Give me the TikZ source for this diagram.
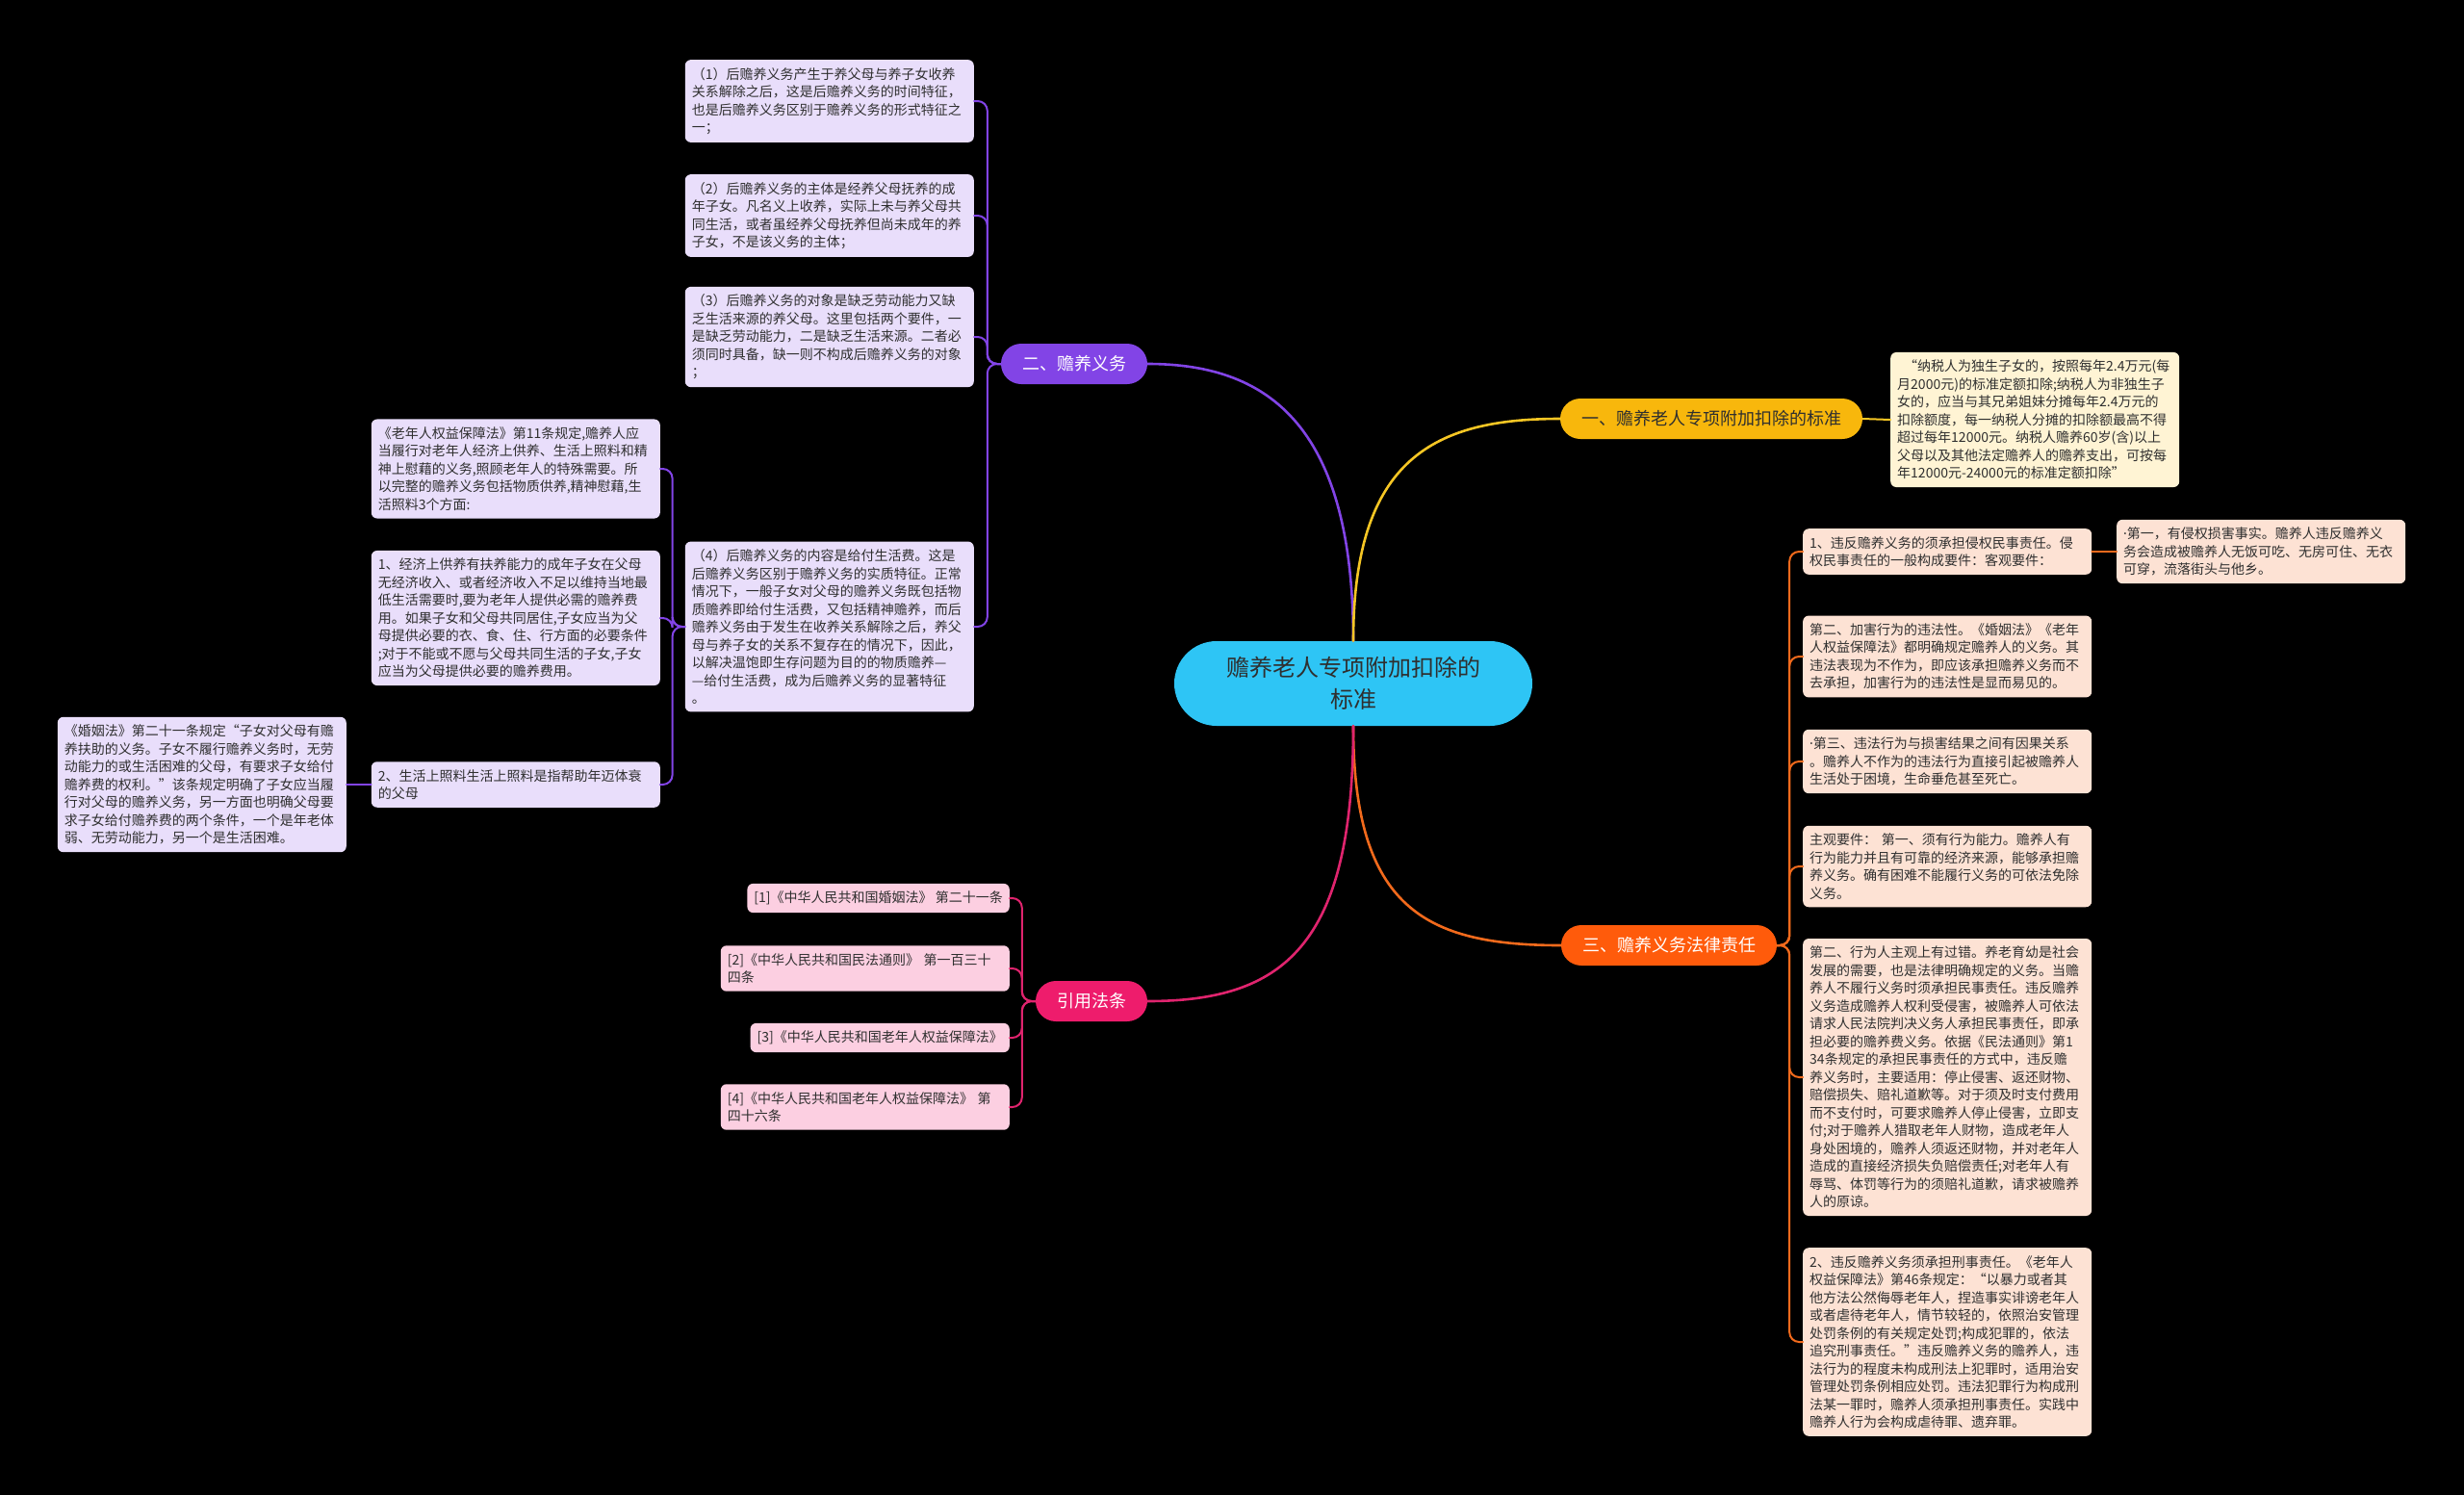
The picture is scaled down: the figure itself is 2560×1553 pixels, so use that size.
\documentclass[tikz,border=0pt]{standalone}
\usepackage{fontspec}
\setmainfont{Noto Sans CJK SC}
\newfontfamily\dotfont{Noto Sans}
\usepackage{xcolor}

\definecolor{rootblue}{HTML}{2EC5F5}
\definecolor{dutyviolet}{HTML}{8244E6}
\definecolor{dutyleaf}{HTML}{E9DEFB}
\definecolor{stdyellow}{HTML}{F8B70C}
\definecolor{stdline}{HTML}{F6C624}
\definecolor{stdleaf}{HTML}{FFF4D4}
\definecolor{liaborange}{HTML}{FF5B0B}
\definecolor{liabline}{HTML}{F26A1C}
\definecolor{liableaf}{HTML}{FDE2D4}
\definecolor{lawpink}{HTML}{EE1C6C}
\definecolor{lawline}{HTML}{E0246E}
\definecolor{lawleaf}{HTML}{FCCFE1}
\definecolor{inktext}{HTML}{2F2F2F}

\begin{document}
\begin{tikzpicture}[x=1pt,y=-1pt,line cap=round,
  leaf/.style={rounded corners=6pt,inner xsep=7pt,inner ysep=8pt,text width=286pt,align=left,text=inktext,font=\fontsize{14}{18.5}\selectfont},
  dleaf/.style={leaf,fill=dutyleaf},
  sleaf/.style={leaf,fill=stdleaf},
  oleaf/.style={leaf,fill=liableaf},
  cleaf/.style={rounded corners=6pt,inner xsep=7pt,inner ysep=8pt,align=left,text=inktext,fill=lawleaf,font=\fontsize{14}{18.5}\selectfont},
  pill/.style={rounded corners=21pt,minimum height=42pt,inner xsep=22pt,inner ysep=0pt,font=\fontsize{18}{22}\selectfont},
  trunk/.style={line width=2.6pt},
  twig/.style={line width=2pt,rounded corners=10pt}]
\useasboundingbox (0,0) rectangle (2560,1553);
\fill[black] (0,0) rectangle (2560,1553);

% centre
\node[fill=rootblue,text=inktext,rounded corners=44pt,minimum width=372pt,minimum height=88pt,align=center,font=\fontsize{24}{33}\selectfont] (root) at (1406,710) {赡养老人专项附加扣除的\\标准};

% main branches
\node[pill,fill=dutyviolet,text=white] (bduty) at (1116,378) {二、赡养义务};
\node[pill,fill=stdyellow,text=inktext] (bstd) at (1778,435) {一、赡养老人专项附加扣除的标准};
\node[pill,fill=liaborange,text=white] (bliab) at (1734,982) {三、赡养义务法律责任};
\node[pill,fill=lawpink,text=white] (blaw) at (1134,1040) {引用法条};

% 二、赡养义务
\node[dleaf,anchor=east] (d1) at (1012,105) {（1）后赡养义务产生于养父母与养子女收养\\关系解除之后，这是后赡养义务的时间特征，\\也是后赡养义务区别于赡养义务的形式特征之\\一；};
\node[dleaf,anchor=east] (d2) at (1012,224) {（2）后赡养义务的主体是经养父母抚养的成\\年子女。凡名义上收养，实际上未与养父母共\\同生活，或者虽经养父母抚养但尚未成年的养\\子女，不是该义务的主体；};
\node[dleaf,anchor=east] (d3) at (1012,350) {（3）后赡养义务的对象是缺乏劳动能力又缺\\乏生活来源的养父母。这里包括两个要件，一\\是缺乏劳动能力，二是缺乏生活来源。二者必\\须同时具备，缺一则不构成后赡养义务的对象\\；};
\node[dleaf,anchor=east] (d4) at (1012,651) {（4）后赡养义务的内容是给付生活费。这是\\后赡养义务区别于赡养义务的实质特征。正常\\情况下，一般子女对父母的赡养义务既包括物\\质赡养即给付生活费，又包括精神赡养，而后\\赡养义务由于发生在收养关系解除之后，养父\\母与养子女的关系不复存在的情况下，因此，\\以解决温饱即生存问题为目的的物质赡养—\\—给付生活费，成为后赡养义务的显著特征\\。};
\node[dleaf,anchor=east] (d41) at (686,487) {《老年人权益保障法》第11条规定,赡养人应\\当履行对老年人经济上供养、生活上照料和精\\神上慰藉的义务,照顾老年人的特殊需要。所\\以完整的赡养义务包括物质供养,精神慰藉,生\\活照料3个方面:};
\node[dleaf,anchor=east] (d42) at (686,642) {1、经济上供养有扶养能力的成年子女在父母\\无经济收入、或者经济收入不足以维持当地最\\低生活需要时,要为老年人提供必需的赡养费\\用。如果子女和父母共同居住,子女应当为父\\母提供必要的衣、食、住、行方面的必要条件\\;对于不能或不愿与父母共同生活的子女,子女\\应当为父母提供必要的赡养费用。};
\node[dleaf,anchor=east] (d43) at (686,815) {2、生活上照料生活上照料是指帮助年迈体衰\\的父母};
\node[dleaf,anchor=east] (d431) at (360,815) {《婚姻法》第二十一条规定“子女对父母有赡\\养扶助的义务。子女不履行赡养义务时，无劳\\动能力的或生活困难的父母，有要求子女给付\\赡养费的权利。”该条规定明确了子女应当履\\行对父母的赡养义务，另一方面也明确父母要\\求子女给付赡养费的两个条件，一个是年老体\\弱、无劳动能力，另一个是生活困难。};

% 一、标准
\node[sleaf,anchor=west] (s1) at (1964,436) {\hspace*{0.5em}“纳税人为独生子女的，按照每年2.4万元(每\\月2000元)的标准定额扣除;纳税人为非独生子\\女的，应当与其兄弟姐妹分摊每年2.4万元的\\扣除额度，每一纳税人分摊的扣除额最高不得\\超过每年12000元。纳税人赡养60岁(含)以上\\父母以及其他法定赡养人的赡养支出，可按每\\年12000元-24000元的标准定额扣除”};

% 三、法律责任
\node[oleaf,anchor=west] (l1) at (1873,573) {1、违反赡养义务的须承担侵权民事责任。侵\\权民事责任的一般构成要件：客观要件：};
\node[oleaf,anchor=west] (l11) at (2199,573) {{\dotfont ·}第一，有侵权损害事实。赡养人违反赡养义\\务会造成被赡养人无饭可吃、无房可住、无衣\\可穿，流落街头与他乡。};
\node[oleaf,anchor=west] (l2) at (1873,682) {第二、加害行为的违法性。《婚姻法》《老年\\人权益保障法》都明确规定赡养人的义务。其\\违法表现为不作为，即应该承担赡养义务而不\\去承担，加害行为的违法性是显而易见的。};
\node[oleaf,anchor=west] (l3) at (1873,791) {{\dotfont ·}第三、违法行为与损害结果之间有因果关系\\。赡养人不作为的违法行为直接引起被赡养人\\生活处于困境，生命垂危甚至死亡。};
\node[oleaf,anchor=west] (l4) at (1873,900) {主观要件： 第一、须有行为能力。赡养人有\\行为能力并且有可靠的经济来源，能够承担赡\\养义务。确有困难不能履行义务的可依法免除\\义务。};
\node[oleaf,anchor=west] (l5) at (1873,1119) {第二、行为人主观上有过错。养老育幼是社会\\发展的需要，也是法律明确规定的义务。当赡\\养人不履行义务时须承担民事责任。违反赡养\\义务造成赡养人权利受侵害，被赡养人可依法\\请求人民法院判决义务人承担民事责任，即承\\担必要的赡养费义务。依据《民法通则》第1\\34条规定的承担民事责任的方式中，违反赡\\养义务时，主要适用：停止侵害、返还财物、\\赔偿损失、赔礼道歉等。对于须及时支付费用\\而不支付时，可要求赡养人停止侵害，立即支\\付;对于赡养人猎取老年人财物，造成老年人\\身处困境的，赡养人须返还财物，并对老年人\\造成的直接经济损失负赔偿责任;对老年人有\\辱骂、体罚等行为的须赔礼道歉，请求被赡养\\人的原谅。};
\node[oleaf,anchor=west] (l6) at (1873,1394) {2、违反赡养义务须承担刑事责任。《老年人\\权益保障法》第46条规定：“以暴力或者其\\他方法公然侮辱老年人，捏造事实诽谤老年人\\或者虐待老年人，情节较轻的，依照治安管理\\处罚条例的有关规定处罚;构成犯罪的，依法\\追究刑事责任。”违反赡养义务的赡养人，违\\法行为的程度未构成刑法上犯罪时，适用治安\\管理处罚条例相应处罚。违法犯罪行为构成刑\\法某一罪时，赡养人须承担刑事责任。实践中\\赡养人行为会构成虐待罪、遗弃罪。};

% 引用法条
\node[cleaf,anchor=east] (c1) at (1049,933) {[1]《中华人民共和国婚姻法》 第二十一条};
\node[cleaf,anchor=east,text width=286pt] (c2) at (1049,1006) {[2]《中华人民共和国民法通则》 第一百三十\\四条};
\node[cleaf,anchor=east] (c3) at (1049,1078) {[3]《中华人民共和国老年人权益保障法》};
\node[cleaf,anchor=east,text width=286pt] (c4) at (1049,1150) {[4]《中华人民共和国老年人权益保障法》 第\\四十六条};

% trunks
\draw[trunk,dutyviolet] (root.north) .. controls +(0,-230) and +(120,0) .. (bduty.east);
\draw[trunk,stdline] (root.north) .. controls +(0,-190) and +(-130,0) .. (bstd.west);
\draw[trunk,liabline] (root.south) .. controls +(0,190) and +(-140,0) .. (bliab.west);
\draw[trunk,lawline] (root.south) .. controls +(0,230) and +(140,0) .. (blaw.east);

% twigs
\foreach \n in {d1,d2,d3,d4}
  \draw[twig,dutyviolet] (bduty.west) -- ++(-14,0) |- (\n.east);
\foreach \n in {d41,d42,d43}
  \draw[twig,dutyviolet] (d4.west) -- ++(-13,0) |- (\n.east);
\draw[twig,dutyviolet] (d43.west) -- (d431.east);
\draw[twig,stdline] (bstd.east) -- (s1.west);
\foreach \n in {l1,l2,l3,l4,l5,l6}
  \draw[twig,liabline] (bliab.east) -- ++(13,0) |- (\n.west);
\draw[twig,liabline] (l1.east) -- (l11.west);
\foreach \n in {c1,c2,c3,c4}
  \draw[twig,lawline] (blaw.west) -- ++(-14,0) |- (\n.east);
\end{tikzpicture}
\end{document}
